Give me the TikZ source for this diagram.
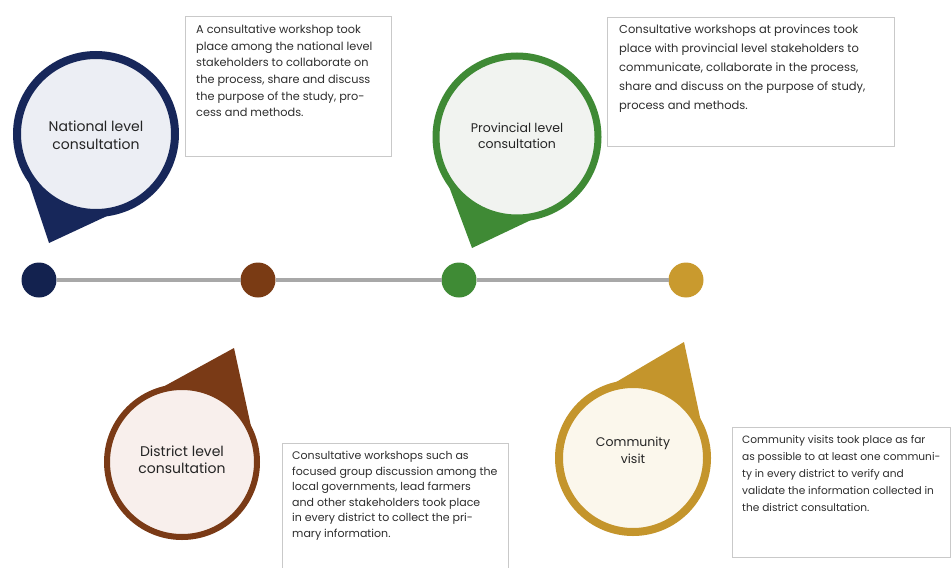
\documentclass[tikz,border=0pt]{standalone}
\usepackage{fontspec}
\setmainfont{Poppins}
\usetikzlibrary{calc,backgrounds}

\definecolor{navy}{HTML}{17275A}
\definecolor{navyfill}{HTML}{ECEEF4}
\definecolor{navydot}{HTML}{13224F}
\definecolor{rust}{HTML}{7A3A16}
\definecolor{rustfill}{HTML}{F8EFEC}
\definecolor{rustdot}{HTML}{7A3B14}
\definecolor{leaf}{HTML}{3F8A35}
\definecolor{leaffill}{HTML}{F1F3F0}
\definecolor{leafdot}{HTML}{3F8B35}
\definecolor{ochre}{HTML}{C4952C}
\definecolor{ochrefill}{HTML}{FBF7EC}
\definecolor{ochredot}{HTML}{C99A2E}
\definecolor{rail}{HTML}{A8A8A8}
\definecolor{boxline}{HTML}{C9C9C9}
\definecolor{ink}{HTML}{2E2E2E}
\definecolor{titleink}{HTML}{242424}

\tikzset{
  bubble/.style={circle, inner sep=0pt, outer sep=0pt},
  pinlabel/.style={inner sep=0pt, align=center, text=titleink},
  stopdot/.style={circle, inner sep=0pt, outer sep=0pt, minimum size=35pt},
  descbox/.style={draw=boxline, line width=0.8pt, fill=white, inner sep=0pt,
    outer sep=0pt, anchor=north west},
  desctext/.style={anchor=north west, inner sep=0pt, align=left, text=ink},
}

% #1 name, #2 centre, #3 diameter, #4 ring width, #5 tip point,
% #6 ring colour, #7 fill colour, #8 label options, #9 label
\newcommand{\drawpin}[9]{%
  \node[bubble, minimum size=#3, line width=#4, draw=#6, fill=#7] (#1) at #2 {};
  \coordinate (#1tip) at #5;
  \begin{scope}[on background layer]
    \fill[#6] (#1tip)
      -- (tangent cs:node=#1,point={(#1tip)},solution=1)
      -- (#1.center)
      -- (tangent cs:node=#1,point={(#1tip)},solution=2) -- cycle;
  \end{scope}
  \node[pinlabel, #8] (#1label) at (#1.center) {#9};
}

\begin{document}
\begin{tikzpicture}[x=1pt,y=-1pt]
\useasboundingbox (0,0) rectangle (952,567);

% timeline
\node[stopdot, fill=navydot] (s1) at (39,280) {};
\node[stopdot, fill=rustdot]  (s2) at (258,280) {};
\node[stopdot, fill=leafdot]  (s3) at (459,280) {};
\node[stopdot, fill=ochredot] (s4) at (686,280) {};
\draw[rail, line width=3.5pt] (s1) -- (s2) -- (s3) -- (s4);

% pins
\drawpin{natpin}{(96,134)}{158pt}{8pt}{(49,243)}{navy}{navyfill}
  {font=\fontsize{14}{17.5}\selectfont, yshift=-1pt}{National level\\consultation}
\drawpin{provpin}{(517,137)}{162pt}{7pt}{(472,248)}{leaf}{leaffill}
  {font=\fontsize{12.5}{16}\selectfont, yshift=1pt}{Provincial level\\consultation}
\drawpin{distpin}{(182,462)}{150pt}{6pt}{(234,348)}{rust}{rustfill}
  {font=\fontsize{14}{17}\selectfont, yshift=2pt}{District level\\consultation}
\drawpin{compin}{(633,458)}{148pt}{8pt}{(684,342)}{ochre}{ochrefill}
  {font=\fontsize{12.5}{17}\selectfont, yshift=8pt}{Community\\visit}

% description boxes
\node[descbox, minimum width=206pt, minimum height=140pt] (natbox) at (185,16) {};
\node[desctext, font=\fontsize{11.3}{16.6}\selectfont] (nattext) at ($(natbox.north west)+(11,9)$)
  {A consultative workshop took\\
   place among the national level\\
   stakeholders to collaborate on\\
   the process, share and discuss\\
   the purpose of the study, pro-\\
   cess and methods.};

\node[descbox, minimum width=287pt, minimum height=129pt] (provbox) at (607,17) {};
\node[desctext, font=\fontsize{11.5}{18.8}\selectfont] (provtext) at ($(provbox.north west)+(12,8)$)
  {Consultative workshops at provinces took\\
   place with provincial level stakeholders to\\
   communicate, collaborate in the process,\\
   share and discuss on the purpose of study,\\
   process and methods.};

\node[descbox, minimum width=226pt, minimum height=128pt] (distbox) at (282,443) {};
\node[desctext, font=\fontsize{11}{15.6}\selectfont] (disttext) at ($(distbox.north west)+(10,8)$)
  {Consultative workshops such as\\
   focused group discussion among the\\
   local governments, lead farmers\\
   and other stakeholders took place\\
   in every district to collect the pri-\\
   mary information.};

\node[descbox, minimum width=218pt, minimum height=130pt] (combox) at (732,427) {};
\node[desctext, font=\fontsize{10.6}{17}\selectfont] (comtext) at ($(combox.north west)+(10,8)$)
  {Community visits took place as far\\
   as possible to at least one communi-\\
   ty in every district to verify and\\
   validate the information collected in\\
   the district consultation.};
\end{tikzpicture}
\end{document}
